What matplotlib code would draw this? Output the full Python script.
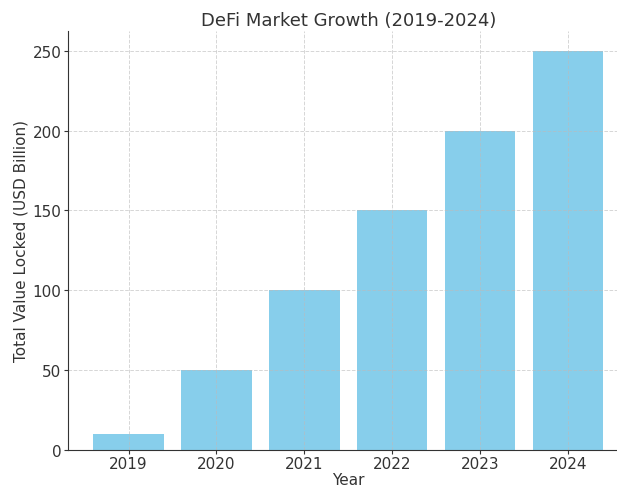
import matplotlib.pyplot as plt

years = ['2019', '2020', '2021', '2022', '2023', '2024']
tvl = [10, 50, 100, 150, 200, 250]

text_color = '#333333'

fig = plt.figure(figsize=(6.17, 4.89), dpi=100)
# axes extend a little past the right edge of the canvas
ax = fig.add_axes([0.110, 0.0780, 0.909, 0.857])
ax.bar(years, tvl, color='skyblue', width=0.8)

ax.set_title('DeFi Market Growth (2019-2024)', fontsize=13, color=text_color, pad=4)
ax.set_xlabel('Year', fontsize=11, color=text_color, labelpad=0.5)
ax.set_ylabel('Total Value Locked (USD Billion)', fontsize=11, color=text_color, labelpad=3)
ax.tick_params(labelsize=11, colors=text_color, length=3, pad=1.5)
ax.grid(True, linestyle='--', alpha=0.6, color='#bbbbbb', linewidth=0.7)
for side in ['top', 'right']:
    ax.spines[side].set_visible(False)
for side in ['left', 'bottom']:
    ax.spines[side].set_color(text_color)

plt.savefig('out.png', dpi=100)
